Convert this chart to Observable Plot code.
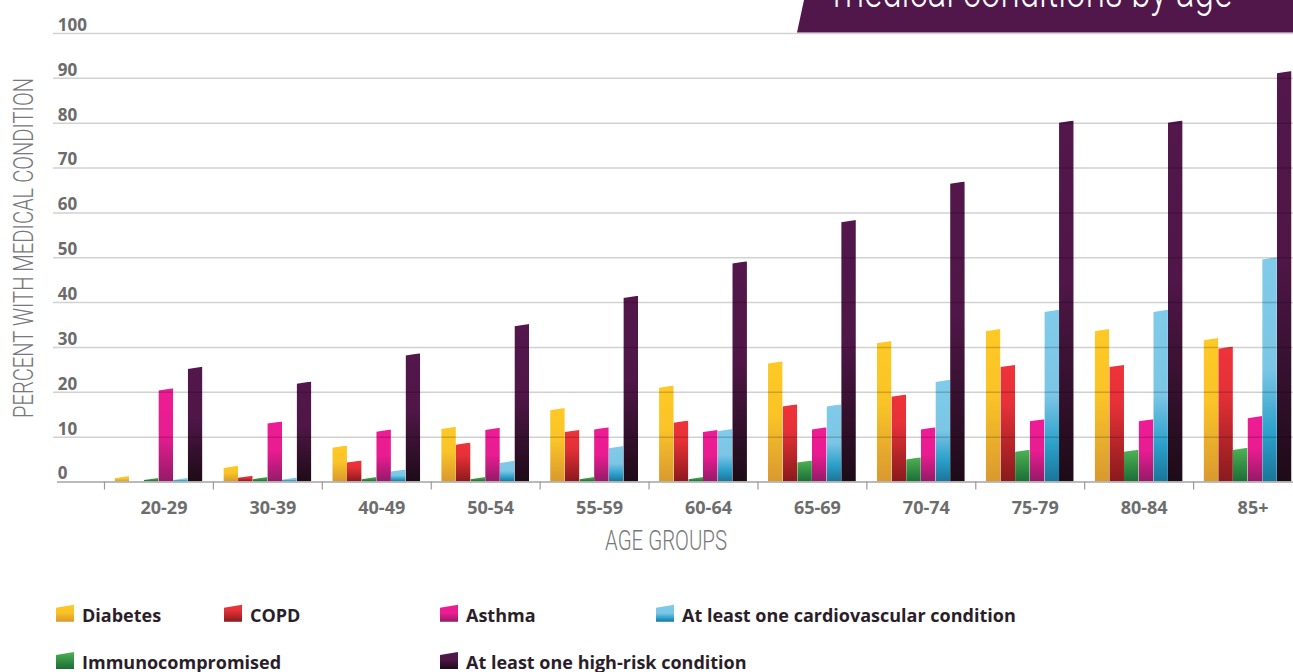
<!DOCTYPE html>
<html>
<head>
<meta charset="utf-8">
<script src="https://cdn.jsdelivr.net/npm/d3@7"></script>
<script src="https://cdn.jsdelivr.net/npm/@observablehq/plot@0.6"></script>
<style>
html, body { margin: 0; padding: 0; background: #fff; overflow: hidden; }
#wrap { position: relative; width: 1293px; height: 672px; overflow: hidden; background: #fff; }
#chart { position: absolute; left: 0; top: 0; }
#chart g[aria-label="bar"] rect { clip-path: polygon(0 2.2px, 100% 0, 100% 100%, 0 100%); }
#overlay { position: absolute; left: 0; top: 0; pointer-events: none; }
#defs { position: absolute; width: 0; height: 0; }
</style>
</head>
<body>
<div id="wrap">
  <svg id="defs" width="0" height="0"><defs id="gradDefs"></defs></svg>
  <div id="chart"></div>
  <svg id="overlay" width="1293" height="672"></svg>
</div>
<script>
// ---------- data ----------
const groups = ["20-29", "30-39", "40-49", "50-54", "55-59", "60-64", "65-69", "70-74", "75-79", "80-84", "85+"];
const diabetes          = [1.2, 3.5, 8.0, 12.2, 16.4, 21.4, 26.8, 31.3, 34.0, 34.0, 32.0];
const copd              = [0.0, 1.3, 4.7, 8.7, 11.5, 13.6, 17.2, 19.4, 26.0, 26.0, 30.1];
const immunocompromised = [0.8, 1.0, 1.0, 1.0, 1.0, 1.0, 4.7, 5.4, 7.1, 7.1, 7.5];
const asthma            = [20.8, 13.4, 11.6, 12.0, 12.1, 11.5, 12.1, 12.1, 13.9, 13.9, 14.6];
const cardiovascular    = [0.8, 0.9, 2.7, 4.6, 7.9, 11.7, 17.2, 22.7, 38.3, 38.3, 50.0];
const highRisk          = [25.6, 22.3, 28.6, 35.1, 41.4, 49.1, 58.3, 66.9, 80.5, 80.5, 91.5];
const seriesKeys  = ["diabetes", "copd", "immuno", "asthma", "cardio", "high"];
const seriesNames = ["Diabetes", "COPD", "Immunocompromised", "Asthma", "At least one cardiovascular condition", "At least one high-risk condition"];
const seriesValues = [diabetes, copd, immunocompromised, asthma, cardiovascular, highRisk];
const yTicks = [0, 10, 20, 30, 40, 50, 60, 70, 80, 90, 100];
const titleText = "medical conditions by age";
const yTitle = "PERCENT WITH MEDICAL CONDITION";
const xTitle = "AGE GROUPS";

// ---------- styles ----------
const gradientStops = {
  diabetes: [[0, "#fec925"], [0.45, "#fac327"], [1, "#d9992f"]],
  copd:     [[0, "#ef333a"], [0.35, "#e43137"], [1, "#8a1a1c"]],
  immuno:   [[0, "#4db253"], [1, "#1c6d37"]],
  asthma:   [[0, "#ee1c94"], [0.5, "#e91c91"], [1, "#931b68"]],
  cardio:   [[0, "#80caea"], [0.5, "#7bc5e5"], [0.78, "#2ca1cb"], [1, "#1a759a"]],
  high:     [[0, "#53174b"], [0.45, "#4f1647"], [1, "#1d0b17"]]
};

const defs = d3.select("#gradDefs");
for (const k of seriesKeys) {
  const g = defs.append("linearGradient").attr("id", "grad-" + k)
    .attr("x1", 0).attr("y1", 0).attr("x2", 0).attr("y2", 1);
  for (const [o, c] of gradientStops[k]) g.append("stop").attr("offset", o).attr("stop-color", c);
}

// long table
const rows = [];
seriesKeys.forEach((k, s) => groups.forEach((g, i) => rows.push({group: g, series: k, value: seriesValues[s][i]})));

// ---------- layout ----------
const W = 1293, H = 560;
const xRange = [104, 1302];
const step = (xRange[1] - xRange[0]) / groups.length;
const groupPad = 10.5;
const barW = (step - 2 * groupPad) / seriesKeys.length;

const barMarks = seriesKeys.map((k, s) =>
  Plot.barY(rows.filter(d => d.series === k), {
    x: "group", y1: 0, y2: "value",
    fill: `url(#grad-${k})`,
    insetLeft: groupPad + s * barW,
    insetRight: step - groupPad - (s + 1) * barW
  })
);

const chart = Plot.plot({
  width: W, height: H,
  marginTop: 33, marginBottom: 78.5, marginLeft: 53, marginRight: 0,
  style: {background: "transparent", fontFamily: "'Open Sans', sans-serif", overflow: "visible"},
  x: {type: "band", domain: groups, range: xRange, padding: 0, round: false, label: null},
  y: {domain: [0, 100], label: null},
  marks: [
    ...barMarks,
    Plot.gridY({ticks: yTicks.filter(t => t > 0), stroke: "#000", strokeOpacity: 0.18, strokeWidth: 1.5}),
    Plot.ruleY([0], {stroke: "#a3a3a3", strokeWidth: 1.6, insetLeft: 4}),
    Plot.axisY({ticks: yTicks, label: null, tickSize: 0, tickPadding: 0, textAnchor: "start",
      dx: 4.3, dy: -8.1, fontSize: 17, fontWeight: 700, color: "#6b6b6b"}),
    Plot.axisX({label: null, tickSize: 8, tickFormat: () => "", dx: -step / 2, stroke: "#9a9a9a", strokeWidth: 1.2}),
    Plot.axisX({label: null, tickSize: 0, tickPadding: 19, dx: 5, fontSize: 18, fontWeight: 700, color: "#6d6d6d"})
  ]
});
document.getElementById("chart").appendChild(chart);

// ---------- overlay: titles, banner, legend ----------
const ov = d3.select("#overlay");
ov.append("polygon").attr("points", "804,0 1293,0 1293,32.5 797,32.5").attr("fill", "#52174a");
ov.append("text").text(titleText)
  .attr("x", 833).attr("y", 6.5)
  .attr("textLength", 399).attr("lengthAdjust", "spacingAndGlyphs")
  .attr("font-family", "Roboto").attr("font-weight", 300).attr("font-size", 46)
  .attr("fill", "#ffffff");

ov.append("text").text(yTitle)
  .attr("transform", "translate(33,248) rotate(-90)")
  .attr("text-anchor", "middle")
  .attr("textLength", 340).attr("lengthAdjust", "spacingAndGlyphs")
  .attr("font-family", "Roboto").attr("font-weight", 300).attr("font-size", 28)
  .attr("fill", "#77787b");

ov.append("text").text(xTitle)
  .attr("x", 605).attr("y", 550)
  .attr("textLength", 122).attr("lengthAdjust", "spacingAndGlyphs")
  .attr("font-family", "Roboto").attr("font-weight", 300).attr("font-size", 28)
  .attr("fill", "#77787b");

// legend layout (swatch left x, baseline y)
const row1 = 621.7, row2 = 669;
const legendPos = {
  diabetes: [56, row1], copd: [224, row1], asthma: [440, row1], cardio: [656, row1],
  immuno: [56, row2], high: [440, row2]
};
seriesKeys.forEach((k, s) => {
  const [lx, by] = legendPos[k];
  ov.append("polygon")
    .attr("points", `${lx},${by - 14} ${lx + 18},${by - 17} ${lx + 18},${by} ${lx},${by}`)
    .attr("fill", `url(#grad-${k})`);
  ov.append("text").text(seriesNames[s])
    .attr("x", lx + 26).attr("y", by)
    .attr("font-family", "'Open Sans', sans-serif").attr("font-weight", 700).attr("font-size", 18)
    .attr("fill", "#2a1e2a");
});
</script>
</body>
</html>
